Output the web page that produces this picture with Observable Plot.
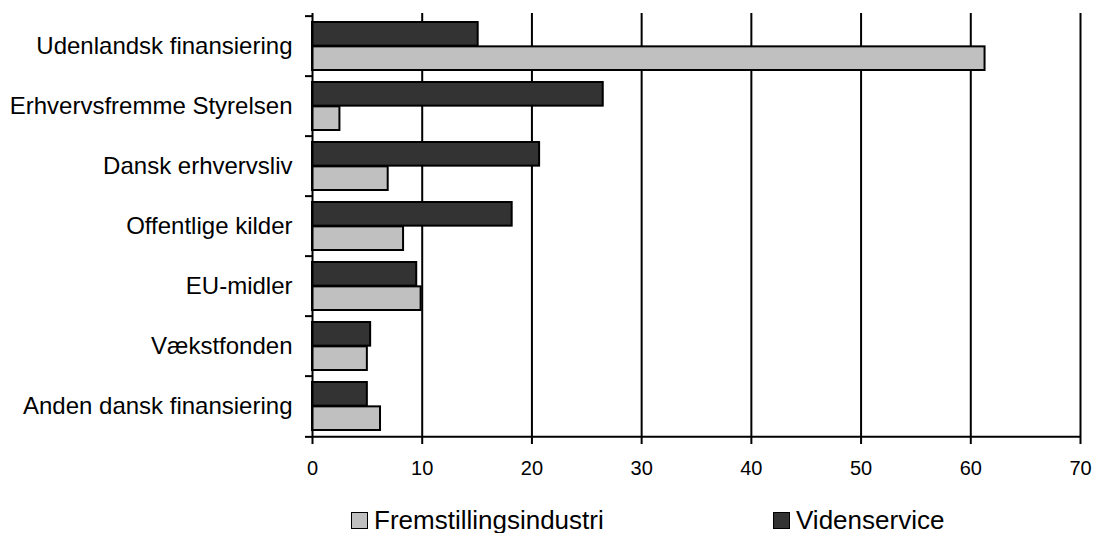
<!DOCTYPE html>
<html>
<head>
<meta charset="utf-8">
<script src="https://cdn.jsdelivr.net/npm/d3@7"></script>
<script src="https://cdn.jsdelivr.net/npm/@observablehq/plot@0.6"></script>
<style>
  html, body { margin: 0; padding: 0; background: #fff; }
  body { width: 1094px; height: 533px; overflow: hidden; font-family: "Liberation Sans", Arial, sans-serif; }
  #chart svg { display: block; }
  #legend { position: relative; height: 33px; font-size: 26px; line-height: 26px; color: #000; }
  #legend .item { position: absolute; top: 7px; display: flex; align-items: center; white-space: nowrap; }
  #legend .sw { width: 15px; height: 15px; border: 1px solid #000; margin-right: 6px; box-sizing: content-box; }
</style>
</head>
<body>
<div id="chart"></div>
<div id="legend"></div>
<script>
const categories = [
  "Udenlandsk finansiering",
  "Erhvervsfremme Styrelsen",
  "Dansk erhvervsliv",
  "Offentlige kilder",
  "EU-midler",
  "Vækstfonden",
  "Anden dansk finansiering"
];
const seriesNames = ["Fremstillingsindustri", "Videnservice"];
const fremstillingsindustri = [61.3, 2.5, 6.9, 8.3, 9.9, 5.0, 6.2];
const videnservice = [15.1, 26.5, 20.7, 18.2, 9.5, 5.3, 5.0];
const xTicks = [0, 10, 20, 30, 40, 50, 60, 70];
const colors = {"Fremstillingsindustri": "#c0c0c0", "Videnservice": "#333333"};

const width = 1094, height = 500;
const marginTop = 13, marginBottom = 62, marginLeft = 312, marginRight = 14;
const bw = (height - marginTop - marginBottom) / categories.length;
const barPad = 6;
const barH = (bw - 2 * barPad) / 2;

const rowsV = categories.map((c, i) => ({category: c, value: videnservice[i]}));
const rowsF = categories.map((c, i) => ({category: c, value: fremstillingsindustri[i]}));

const chart = Plot.plot({
  width, height, marginTop, marginBottom, marginLeft, marginRight,
  style: {fontFamily: "Liberation Sans, Arial, sans-serif", background: "#fff", color: "#000"},
  x: {domain: [0, 70], ticks: xTicks},
  y: {domain: categories, padding: 0, label: null},
  marks: [
    Plot.gridX(xTicks.slice(1), {stroke: "#000", strokeOpacity: 1, strokeWidth: 2}),
    Plot.barX(rowsV, {y: "category", x: "value", fill: colors["Videnservice"], stroke: "#000", strokeWidth: 2,
      insetTop: barPad, insetBottom: barPad + barH}),
    Plot.barX(rowsF, {y: "category", x: "value", fill: colors["Fremstillingsindustri"], stroke: "#000", strokeWidth: 2,
      insetTop: barPad + barH, insetBottom: barPad}),
    Plot.ruleX([0], {stroke: "#000", strokeWidth: 2}),
    Plot.ruleY([categories[categories.length - 1]], {x1: 0, x2: 70, stroke: "#000", strokeWidth: 2, dy: bw / 2}),
    Plot.axisY({tickSize: 0, tickPadding: 20, fontSize: 24, label: null}),
    Plot.axisY({tickSize: 7, tickFormat: () => "", strokeWidth: 2, dy: -bw / 2, label: null}),
    Plot.axisY([categories[categories.length - 1]], {tickSize: 7, tickFormat: () => "", strokeWidth: 2, dy: bw / 2, label: null}),
    Plot.axisX({ticks: xTicks, tickSize: 6, tickPadding: 16, fontSize: 20, strokeWidth: 2, label: null})
  ]
});
document.getElementById("chart").appendChild(chart);

const legendItems = [
  {name: seriesNames[0], left: 351},
  {name: seriesNames[1], left: 773}
];
const legend = document.getElementById("legend");
for (const it of legendItems) {
  const el = document.createElement("div");
  el.className = "item";
  el.style.left = it.left + "px";
  const sw = document.createElement("span");
  sw.className = "sw";
  sw.style.background = colors[it.name];
  const tx = document.createElement("span");
  tx.textContent = it.name;
  el.appendChild(sw);
  el.appendChild(tx);
  legend.appendChild(el);
}
</script>
</body>
</html>
